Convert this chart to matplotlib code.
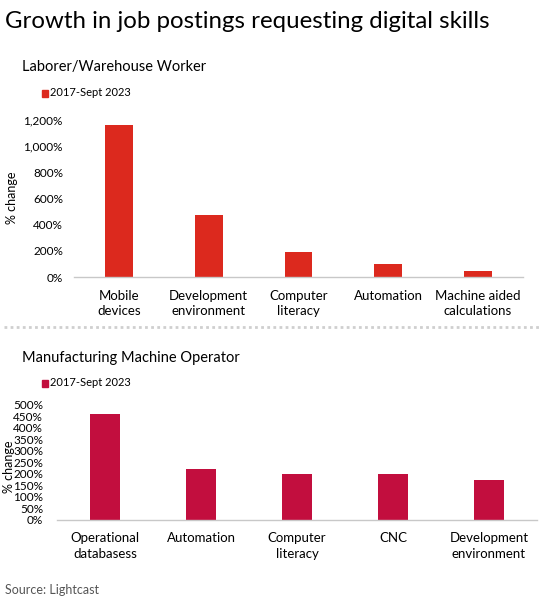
import numpy as np
import matplotlib
matplotlib.use("Agg")
import matplotlib.pyplot as plt
from matplotlib.ticker import FuncFormatter
from matplotlib.lines import Line2D

plt.rcParams['font.family'] = ['Lato', 'DejaVu Sans']

title = "Growth in job postings requesting digital skills"
series_name = "2017-Sept 2023"

top_title = "Laborer/Warehouse Worker"
top_cats = ["Mobile\ndevices", "Development\nenvironment", "Computer\nliteracy",
            "Automation", "Machine aided\ncalculations"]
top_vals = [1162, 472, 189, 100, 46]
top_ticks = [0, 200, 400, 600, 800, 1000, 1200]

bot_title = "Manufacturing Machine Operator"
bot_cats = ["Operational\ndatabasess", "Automation", "Computer\nliteracy",
            "CNC", "Development\nenvironment"]
bot_vals = [459, 221, 199, 199, 173]
bot_ticks = [0, 50, 100, 150, 200, 250, 300, 350, 400, 450, 500]

W, H = 544, 603
fig = plt.figure(figsize=(W / 100, H / 100), dpi=100)


def box(x0, x1, ytop, ybot):
    return [x0 / W, 1 - ybot / H, (x1 - x0) / W, (ybot - ytop) / H]


def pct(v, pos):
    return "{:,.0f}%".format(v)


def draw_panel(ax, cats, vals, ticks, color, width, tick_fs):
    x = np.arange(len(cats))
    ax.bar(x, vals, width=width, color=color, zorder=2)
    ax.set_xlim(-0.5, len(cats) - 0.5)
    ax.set_ylim(ticks[0], ticks[-1])
    ax.set_yticks(ticks)
    ax.yaxis.set_major_formatter(FuncFormatter(pct))
    ax.set_xticks(x)
    ax.set_xticklabels(cats, fontsize=9.5, linespacing=1.35, va="top")
    for s in ["top", "right", "left"]:
        ax.spines[s].set_visible(False)
    ax.spines["bottom"].set_color("#c8c8c8")
    ax.spines["bottom"].set_linewidth(1)
    ax.tick_params(axis="both", length=0)
    ax.tick_params(axis="x", pad=9)
    ax.tick_params(axis="y", labelsize=tick_fs, pad=8)


# top panel
ax1 = fig.add_axes(box(74, 523, 120, 277))
draw_panel(ax1, top_cats, top_vals, top_ticks, "#dc291e", 0.31, 8.5)

# bottom panel
ax2 = fig.add_axes(box(57, 537, 404.5, 520))
draw_panel(ax2, bot_cats, bot_vals, bot_ticks, "#c20e3e", 0.31, 8.5)
ax2.tick_params(axis="y", pad=10)

# titles and labels
fig.text(5 / W, 1 - 21 / H, title, fontsize=17.3, va="center", ha="left")
fig.text(22 / W, 1 - 67 / H, top_title, fontsize=10.5, va="center", ha="left")
fig.text(22 / W, 1 - 358 / H, bot_title, fontsize=10.5, va="center", ha="left")

for yl, col in [(93, "#dc291e"), (383, "#c20e3e")]:
    fig.patches.append(plt.Rectangle((42 / W, 1 - (yl + 3.5) / H), 6 / W, 7 / H,
                                     transform=fig.transFigure, color=col))
    fig.text(50 / W, 1 - yl / H, series_name, fontsize=8, va="center", ha="left")

fig.text(12 / W, 1 - 198 / H, "% change", fontsize=9, rotation=90, va="center", ha="center")
fig.text(9 / W, 1 - 467 / H, "% change", fontsize=9, rotation=90, va="center", ha="center")

# dotted separator
fig.add_artist(Line2D([4 / W, 540 / W], [1 - 327 / H, 1 - 327 / H], transform=fig.transFigure,
                      color="#cfcfcf", linewidth=2, linestyle=(0, (1, 1.2))))

fig.text(5 / W, 1 - 590 / H, "Source: Lightcast", fontsize=9, color="#555555", va="center", ha="left")

fig.savefig("out.png", dpi=100)
